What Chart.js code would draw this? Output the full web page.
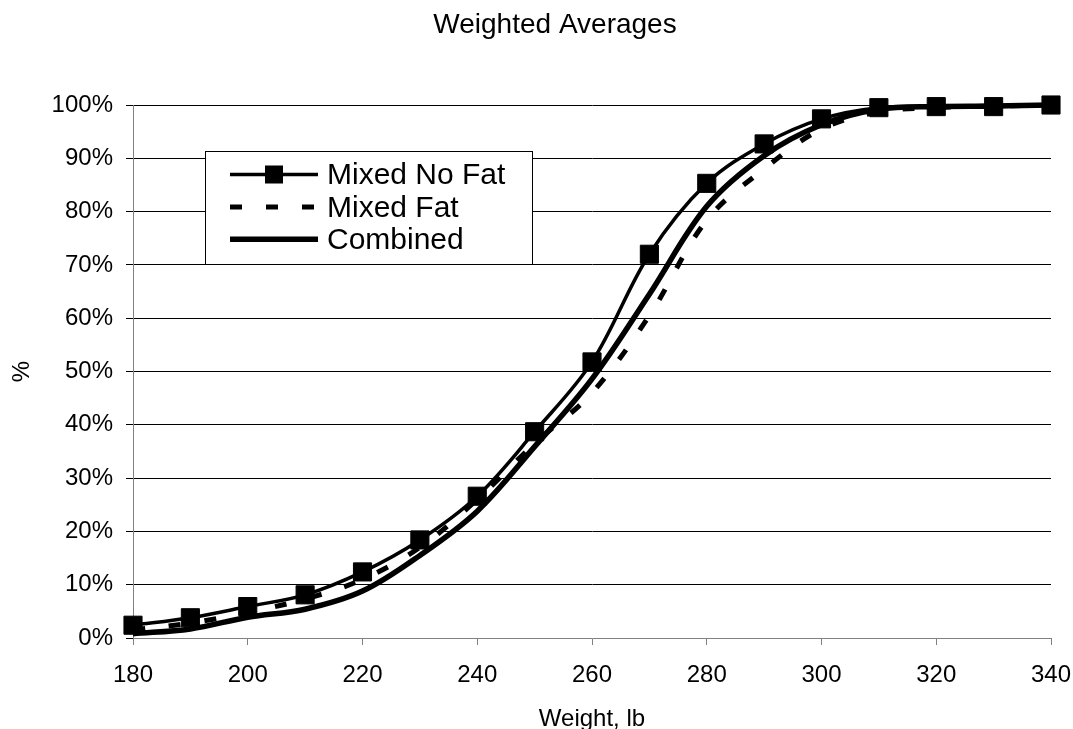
<!DOCTYPE html>
<html>
<head>
<meta charset="utf-8">
<script src="https://cdn.jsdelivr.net/npm/chart.js@4"></script>
<style>
  body { margin: 0; background: #fff; }
  canvas { display: block; }
</style>
</head>
<body>
<canvas id="chart" width="1073" height="729"></canvas>
<script>
// DATA
const weights = [180, 190, 200, 210, 220, 230, 240, 250, 260, 270, 280, 290, 300, 310, 320, 330, 340];
const mixedNoFat = [2.4, 3.8, 5.9, 8.1, 12.4, 18.4, 26.6, 38.7, 51.8, 72.0, 85.3, 92.7, 97.4, 99.5, 99.7, 99.7, 100];
const mixedFat = [1.5, 2.8, 4.8, 7.3, 11.0, 17.0, 26.0, 36.5, 46.0, 60.5, 78.4, 88.0, 95.5, 98.7, 99.5, 99.8, 100];
const combined = [0.8, 1.7, 3.9, 5.4, 8.8, 15.5, 23.8, 35.9, 48.6, 64.5, 81.0, 90.5, 96.3, 99.2, 99.7, 99.8, 100];
const seriesNames = ["Mixed No Fat", "Mixed Fat", "Combined"];
const xTickStep = 20;
const yTickStep = 10;

const FONT = '"Liberation Sans", Arial, sans-serif';
Chart.defaults.font.family = FONT;
Chart.defaults.color = "#000";

const pts = arr => arr.map((v, i) => ({ x: weights[i], y: v }));

// TITLES
const titles = {
    id: "titles",
    afterDraw(chart) {
        const ctx = chart.ctx;
        const a = chart.chartArea;
        ctx.save();
        ctx.fillStyle = "#000";
        ctx.textAlign = "center";
        ctx.textBaseline = "alphabetic";
        ctx.font = "28px " + FONT;
        ctx.fillText("Weighted Averages", 555, 33);
        ctx.font = "24px " + FONT;
        ctx.fillText("Weight, lb", (a.left + a.right) / 2, 726);
        ctx.translate(22, (a.top + a.bottom) / 2);
        ctx.rotate(-Math.PI / 2);
        ctx.textBaseline = "middle";
        ctx.fillText("%", 0, 0);
        ctx.restore();
    }
};

// LEGEND BOX
const legendBox = {
    id: "legendBox",
    afterDraw(chart) {
        const ctx = chart.ctx;
        const x0 = 205.5, y0 = 151.5, w = 327, h = 113;
        ctx.save();
        ctx.fillStyle = "#fff";
        ctx.fillRect(x0, y0, w, h);
        ctx.strokeStyle = "#000";
        ctx.lineWidth = 1;
        ctx.strokeRect(x0, y0, w, h);
        chart.data.datasets.forEach((ds, i) => {
            const y = 174.5 + i * 32.4;
            ctx.beginPath();
            ctx.lineWidth = ds.borderWidth;
            ctx.lineCap = "butt";
            ctx.setLineDash(ds.borderDash || []);
            ctx.moveTo(230, y);
            ctx.lineTo(318, y);
            ctx.stroke();
            ctx.setLineDash([]);
            if (ds.pointRadius > 0) {
                ctx.fillStyle = "#000";
                ctx.fillRect(274 - 9, y - 9, 18, 18);
            }
            ctx.fillStyle = "#000";
            ctx.font = "30px " + FONT;
            ctx.textAlign = "left";
            ctx.textBaseline = "middle";
            ctx.fillText(ds.label, 327, y + 1.5);
        });
        ctx.restore();
    }
};

const ctx = document.getElementById("chart").getContext("2d");

new Chart(ctx, {
    type: "line",
    data: {
        datasets: [{
            label: seriesNames[0],
            data: pts(mixedNoFat),
            borderColor: "#000",
            backgroundColor: "#000",
            borderWidth: 3.5,
            pointStyle: "rect",
            pointRadius: 12.8,
            pointBorderWidth: 1,
            pointBackgroundColor: "#000",
            pointBorderColor: "#000",
            tension: 0.35,
            clip: false
        }, {
            label: seriesNames[1],
            data: pts(mixedFat),
            borderColor: "#000",
            borderWidth: 5,
            borderDash: [12, 24],
            pointRadius: 0,
            tension: 0.35,
            clip: false
        }, {
            label: seriesNames[2],
            data: pts(combined),
            borderColor: "#000",
            borderWidth: 5.5,
            pointRadius: 0,
            tension: 0.35,
            clip: false
        }]
    },
    options: {
        responsive: false,
        devicePixelRatio: 1,
        animation: false,
        events: [],
        layout: { padding: { top: 105, right: 22, left: 0, bottom: 0 } },
        plugins: {
            legend: { display: false },
            tooltip: { enabled: false }
        },
        scales: {
            x: {
                type: "linear",
                min: 180,
                max: 340,
                afterFit: s => {
                    s.height = 91;
                    s.paddingLeft = 0;
                    s.paddingRight = 0;
                },
                ticks: { stepSize: xTickStep, font: { size: 24 }, padding: 16, color: "#000", maxRotation: 0 },
                grid: { drawOnChartArea: false, tickLength: 7, tickColor: "#808080" },
                border: { color: "#808080", width: 1 }
            },
            y: {
                min: 0,
                max: 100,
                afterFit: s => {
                    s.width = 133;
                    s.paddingTop = 0;
                    s.paddingBottom = 0;
                },
                ticks: { stepSize: yTickStep, font: { size: 24 }, padding: 13, color: "#000", callback: v => v + "%" },
                grid: {
                    color: c => (c.tick && c.tick.value === 0 ? "rgba(0,0,0,0)" : "#000"),
                    lineWidth: 1,
                    tickLength: 7,
                    tickColor: "#000"
                },
                border: { color: "#808080", width: 1 }
            }
        }
    },
    plugins: [titles, legendBox]
});
</script>
</body>
</html>
